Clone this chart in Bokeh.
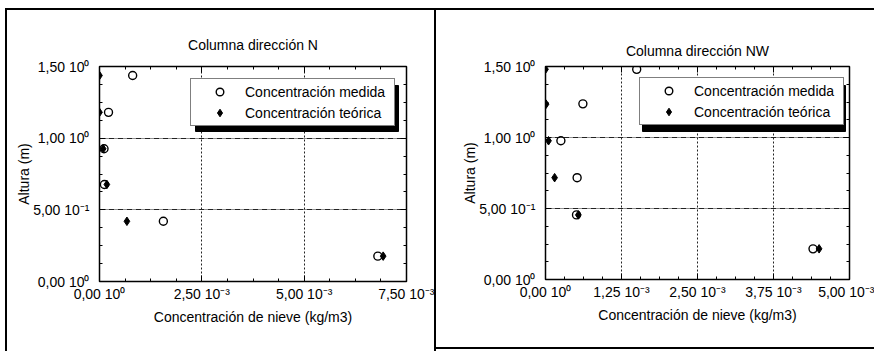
from bokeh.plotting import figure
from bokeh.layouts import row
from bokeh.models import (LinearAxis, FixedTicker, Range1d, Legend, LegendItem,
                          BoxAnnotation, Grid)
from bokeh.embed import file_html
from bokeh.resources import INLINE

# ---------------- data ----------------
n_title = "Columna dirección N"
nw_title = "Columna dirección NW"
x_label = "Concentración de nieve (kg/m3)"
y_label = "Altura (m)"
series_names = ["Concentración medida", "Concentración teórica"]

n_medida_x = [0.81e-3, 0.22e-3, 0.11e-3, 0.12e-3, 1.56e-3, 6.80e-3]
n_medida_y = [1.437, 1.18, 0.926, 0.677, 0.42, 0.177]
n_teorica_x = [0.0, 0.0, 0.09e-3, 0.18e-3, 0.67e-3, 6.93e-3]
n_teorica_y = [1.437, 1.18, 0.926, 0.677, 0.42, 0.177]

nw_medida_x = [1.50e-3, 0.615e-3, 0.253e-3, 0.52e-3, 0.51e-3, 4.40e-3]
nw_medida_y = [1.48, 1.237, 0.977, 0.717, 0.455, 0.216]
nw_teorica_x = [0.0, 0.01e-3, 0.05e-3, 0.15e-3, 0.54e-3, 4.50e-3]
nw_teorica_y = [1.48, 1.235, 0.977, 0.717, 0.455, 0.216]

n_x_ticks = [0.0, 0.0025, 0.005, 0.0075]
n_x_labels = ["0,00 10⁰", "2,50 10⁻³", "5,00 10⁻³", "7,50 10⁻³"]
nw_x_ticks = [0.0, 0.00125, 0.0025, 0.00375, 0.005]
nw_x_labels = ["0,00 10⁰", "1,25 10⁻³", "2,50 10⁻³", "3,75 10⁻³", "5,00 10⁻³"]
y_ticks = [0.0, 0.5, 1.0, 1.5]
y_labels = ["0,00 10⁰", "5,00 10⁻¹", "1,00 10⁰", "1,50 10⁰"]

FONT = "Liberation Sans"
FS = "14px"


def minor_of(ticks, n=4):
    out = []
    for a, b in zip(ticks[:-1], ticks[1:]):
        for k in range(1, n):
            out.append(a + (b - a) * k / n)
    return out


def style_axis(ax):
    ax.major_label_text_font = FONT
    ax.major_label_text_font_size = FS
    ax.major_label_text_color = "black"
    ax.axis_label_text_font = FONT
    ax.axis_label_text_font_size = FS
    ax.axis_label_text_font_style = "normal"
    ax.axis_label_text_color = "black"
    ax.axis_line_color = None
    ax.major_tick_in = 6
    ax.major_tick_out = 0
    ax.minor_tick_in = 3
    ax.minor_tick_out = 0
    ax.major_tick_line_color = "black"
    ax.minor_tick_line_color = "black"


def tick_only_axis(positions, length, label=None, label_standoff=0):
    ax = LinearAxis(ticker=FixedTicker(ticks=[], minor_ticks=positions),
                    axis_label=label)
    style_axis(ax)
    ax.minor_tick_in = length
    ax.major_label_standoff = 0
    ax.axis_label_standoff = label_standoff
    return ax


def panel(title, xticks, xlabels, mx, my, tx, ty, width, height,
          mb_left, mb_right, mb_top, mb_bottom, leg_x, leg_y, title_gap,
          styles):
    frame_h = height - mb_top - mb_bottom
    p = figure(width=width, height=height,
               x_range=Range1d(xticks[0], xticks[-1]),
               y_range=Range1d(y_ticks[0], y_ticks[-1]),
               x_axis_type=None, y_axis_type=None,
               output_backend="svg", toolbar_location=None,
               min_border_left=mb_left, min_border_right=mb_right,
               min_border_top=mb_top, min_border_bottom=mb_bottom,
               styles=styles)
    p.background_fill_color = "white"
    p.border_fill_color = "white"
    p.outline_line_color = "black"
    p.outline_line_width = 1.5

    xt = FixedTicker(ticks=xticks, minor_ticks=minor_of(xticks))
    yt = FixedTicker(ticks=y_ticks, minor_ticks=minor_of(y_ticks))

    xb = LinearAxis(ticker=xt, axis_label=x_label)
    xb.major_label_overrides = {t: l for t, l in zip(xticks, xlabels)}
    yl = LinearAxis(ticker=yt, axis_label=y_label)
    yl.major_label_overrides = {t: l for t, l in zip(y_ticks, y_labels)}
    style_axis(xb)
    style_axis(yl)
    xb.major_label_standoff = 4
    xb.axis_label_standoff = 4
    yl.major_label_standoff = 10
    yl.axis_label_standoff = -2
    p.add_layout(xb, "below")
    p.add_layout(yl, "left")
    # ticks on the top and right edges; the outermost top one carries the title
    p.add_layout(tick_only_axis(minor_of(xticks), 3), "above")
    p.add_layout(tick_only_axis(xticks, 6, title, title_gap), "above")
    p.add_layout(tick_only_axis(minor_of(y_ticks), 3), "right")
    p.add_layout(tick_only_axis(y_ticks, 6), "right")

    gx = Grid(dimension=0, ticker=FixedTicker(ticks=xticks[1:-1]))
    gx.grid_line_color = "#222222"
    gx.grid_line_dash = "2 2"
    gx.grid_line_width = 1
    gy = Grid(dimension=1, ticker=FixedTicker(ticks=y_ticks[1:-1]))
    gy.grid_line_color = "#222222"
    gy.grid_line_dash = "6 1 1 1"
    gy.grid_line_width = 1
    p.add_layout(gx, "center")
    p.add_layout(gy, "center")

    r1 = p.scatter(mx, my, marker="circle", size=8, fill_color=None,
                   line_color="black", line_width=1.4)
    r2 = p.scatter(tx, ty, marker="diamond", size=8.5,
                   fill_color="black", line_color="black", line_width=1)

    leg_w, leg_h, sh = 203, 46, 3
    leg_left_c = mb_left + leg_x
    leg_bottom_c = mb_top + frame_h - leg_y
    shadow = BoxAnnotation(left=leg_left_c + sh, right=leg_left_c + leg_w + sh,
                           top=leg_bottom_c - leg_h + sh, bottom=leg_bottom_c + sh,
                           left_units="canvas", right_units="canvas",
                           bottom_units="canvas", top_units="canvas",
                           fill_color="black", fill_alpha=1.0,
                           line_color="black", line_alpha=1.0)
    p.add_layout(shadow)

    leg = Legend(items=[LegendItem(label=series_names[0], renderers=[r1]),
                        LegendItem(label=series_names[1], renderers=[r2])],
                 location=(leg_x, leg_y), padding=3, margin=0, spacing=2,
                 glyph_width=51, glyph_height=19, label_height=19,
                 label_width=146, label_standoff=0,
                 label_text_font=FONT, label_text_font_size=FS,
                 label_text_color="black", border_line_color="black",
                 border_line_width=1.2, background_fill_color="white",
                 background_fill_alpha=1.0)
    p.add_layout(leg, "center")
    return p


p1 = panel(n_title, n_x_ticks, n_x_labels, n_medida_x, n_medida_y,
           n_teorica_x, n_teorica_y, 431, 343, 92, 32, 56, 72, 91, 155, 14,
           {"border-left": "2px solid black", "border-top": "2px solid black",
            "border-right": "2px solid black", "margin-left": "5px",
            "margin-top": "8px"})
p2 = panel(nw_title, nw_x_ticks, nw_x_labels, nw_medida_x, nw_medida_y,
           nw_teorica_x, nw_teorica_y, 438, 341, 109, 25, 55, 71, 94, 154, 8,
           {"border-top": "2px solid black", "border-bottom": "2px solid black",
            "margin-top": "8px"})

layout = row(p1, p2, spacing=0)
open("out.html", "w").write(file_html(layout, INLINE))
